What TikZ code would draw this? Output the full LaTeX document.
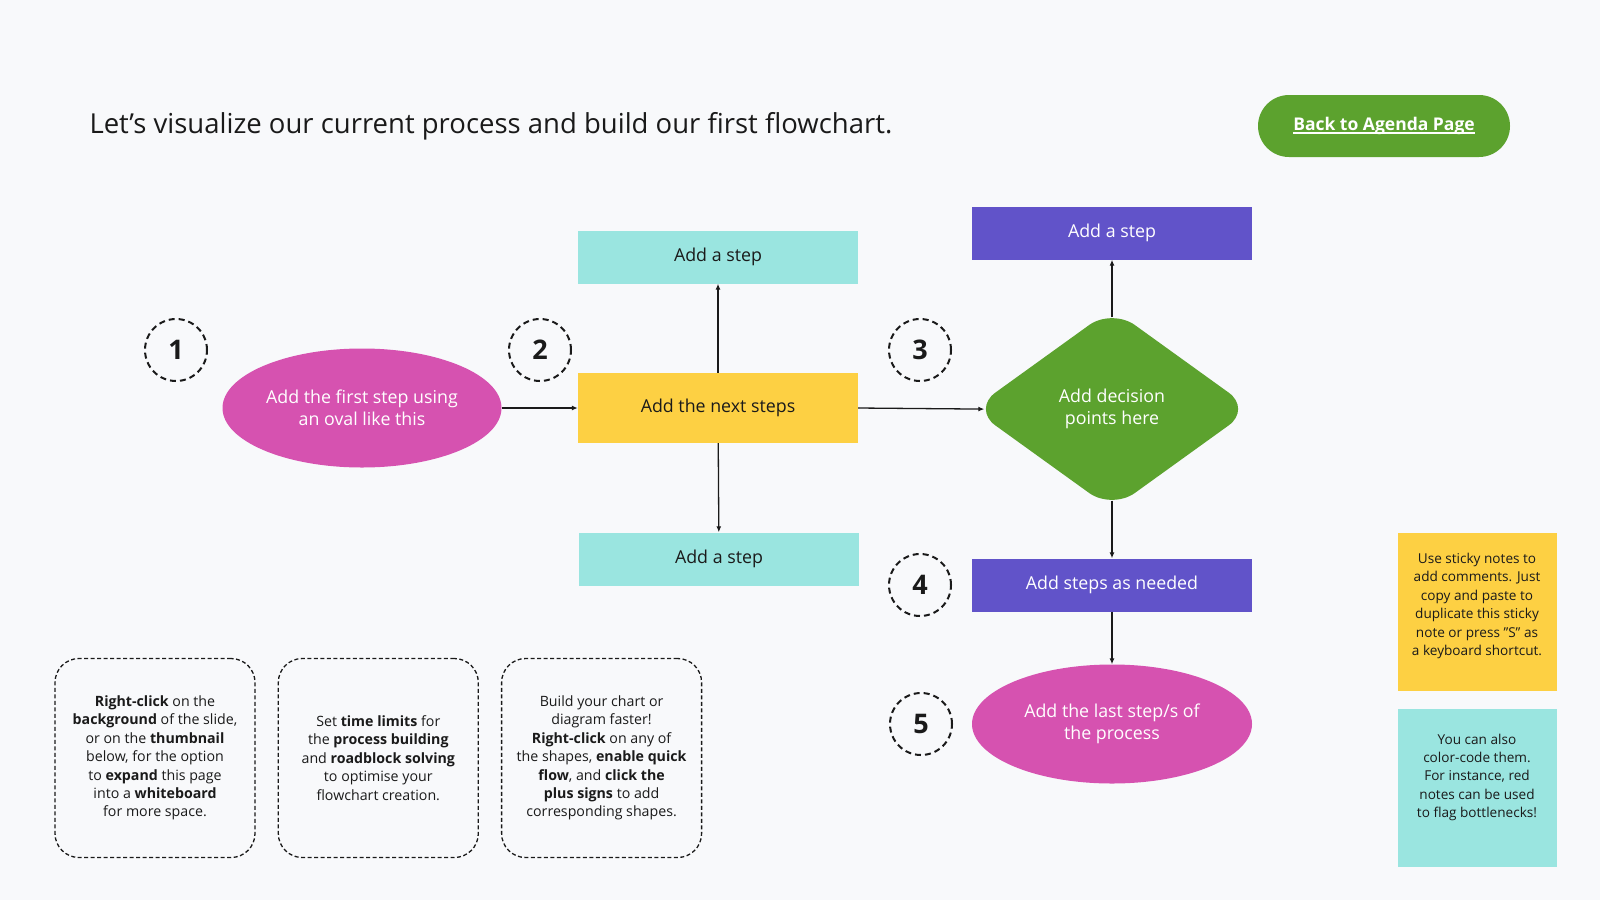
\documentclass[tikz,border=0pt]{standalone}
\usepackage{fontspec}
\setmainfont{Open Sans}
\usetikzlibrary{arrows.meta,positioning,shapes.geometric}
\definecolor{paper}{HTML}{F8F9FB}
\definecolor{inkdark}{HTML}{1A1A1A}
\definecolor{ovalpink}{HTML}{D652B0}
\definecolor{stepyellow}{HTML}{FDD043}
\definecolor{stepcyan}{HTML}{9AE5E0}
\definecolor{steppurple}{HTML}{6153C9}
\definecolor{decgreen}{HTML}{5CA22E}
\newcommand{\btnul}[1]{\setbox0\hbox{#1}\rlap{\rule[-3.5pt]{\wd0}{1.7pt}}\box0}

\begin{document}
\begin{tikzpicture}[x=1pt, y=-1pt, >=Latex]
		\tikzset{
			stepbox/.style={rectangle, minimum width=280pt, minimum height=53pt, inner sep=0pt, align=center, font=\fontsize{17.8}{21.5}\selectfont},
			oval/.style={ellipse, fill=ovalpink, text=white, minimum width=279pt, minimum height=119pt, inner sep=0pt, align=center, font=\fontsize{17.8}{21.5}\selectfont},
			numring/.style={circle, draw=inkdark, line width=2pt, dash pattern=on 6pt off 4pt, minimum size=62pt, inner sep=0pt, text=inkdark, font=\fontsize{27}{27}\selectfont\bfseries},
			tipbox/.style={rectangle, rounded corners=24pt, draw=inkdark, line width=1.3pt, dash pattern=on 4pt off 2.5pt, minimum width=200pt, minimum height=199pt, inner sep=0pt, align=center, text=inkdark, font=\fontsize{14.2}{18.4}\selectfont},
			sticky/.style={rectangle, minimum width=159pt, minimum height=158pt, inner sep=0pt},
			stickytext/.style={align=center, text=inkdark, font=\fontsize{13.6}{18.4}\selectfont},
			arr/.style={->, line width=1.3pt, draw=inkdark, >={Latex[length=6pt, width=5pt]}},
		}
		% page
		\fill[paper] (0,0) rectangle (1600,900);
		\node[anchor=west, text=inkdark, font=\fontsize{27.5}{32}\selectfont] (title) at (86,126) {Let's visualize our current process and build our first flowchart.};
		\node[rectangle, rounded corners=31pt, fill=decgreen, minimum width=252pt, minimum height=62pt, text=white, font=\fontsize{17.5}{21}\selectfont\bfseries] (agenda) at (1384,126) {\btnul{Back to Agenda Page}};
		
		% flowchart
		\node[oval] (first) at (362,408) {Add the first step using\\an oval like this};
		\node[stepbox, fill=stepyellow, minimum height=70pt, text=inkdark] (next) at (718,408) {Add the next steps};
		\node[stepbox, fill=stepcyan, text=inkdark] (upper) at (718,257) {Add a step};
		\node[stepbox, fill=stepcyan, text=inkdark] (lower) at (719,559) {Add a step};
		\node[diamond, rounded corners=28pt, fill=decgreen, minimum width=279pt, minimum height=201pt, inner sep=0pt, text=white, align=center, font=\fontsize{17.8}{21.5}\selectfont] (decide) at (1112,409) {Add decision\\points here};
		\node[stepbox, fill=steppurple, text=white] (branch) at (1112,233) {Add a step};
		\node[stepbox, fill=steppurple, text=white] (more) at (1112,585) {Add steps as needed};
		\node[oval, minimum width=280pt] (last) at (1112,724) {Add the last step/s of\\the process};
		
		\draw[arr] (first) -- (next);
		\draw[arr] (next) -- (upper);
		\draw[arr] (next) -- (lower);
		\draw[arr, shorten >=-12pt] (next.east) -- (decide.west);
		\draw[arr, shorten <=-9pt] (decide.north) -- (branch.south);
		\draw[arr, shorten <=-9pt] (decide.south) -- (more.north);
		\draw[arr] (more) -- (last);
		
		% step numbers
		\node[numring] (n1) at (176,350) {1};
		\node[numring] (n2) at (540,350) {2};
		\node[numring] (n3) at (920,350) {3};
		\node[numring] (n4) at (920,585) {4};
		\node[numring] (n5) at (921,724) {5};
		
		% tips
		\node[tipbox] (tipA) at (155,758) {\textbf{Right-click} on the\\\textbf{background} of the slide,\\or on the \textbf{thumbnail}\\below, for the option\\to \textbf{expand} this page\\into a \textbf{whiteboard}\\for more space.};
		\node[tipbox, right=22pt of tipA] (tipB) {Set \textbf{time limits} for\\the \textbf{process building}\\and \textbf{roadblock solving}\\to optimise your\\flowchart creation.};
		\node[tipbox, right=22pt of tipB] (tipC) {Build your chart or\\diagram faster!\\\textbf{Right-click} on any of\\the shapes, \textbf{enable quick}\\\textbf{flow}, and \textbf{click the}\\\textbf{plus signs} to add\\corresponding shapes.};
		
		% sticky notes
		\node[sticky, fill=stepyellow] (noteA) at (1477,612) {};
		\node[stickytext] (noteAtext) at ([yshift=6pt]noteA.center) {Use sticky notes to\\add comments. Just\\copy and paste to\\duplicate this sticky\\note or press "S" as\\a keyboard shortcut.};
		\node[sticky, fill=stepcyan, below=18pt of noteA] (noteB) {};
		\node[stickytext] (noteBtext) at ([yshift=11pt]noteB.center) {You can also\\color-code them.\\For instance, red\\notes can be used\\to flag bottlenecks!};
	\end{tikzpicture}
\end{document}
